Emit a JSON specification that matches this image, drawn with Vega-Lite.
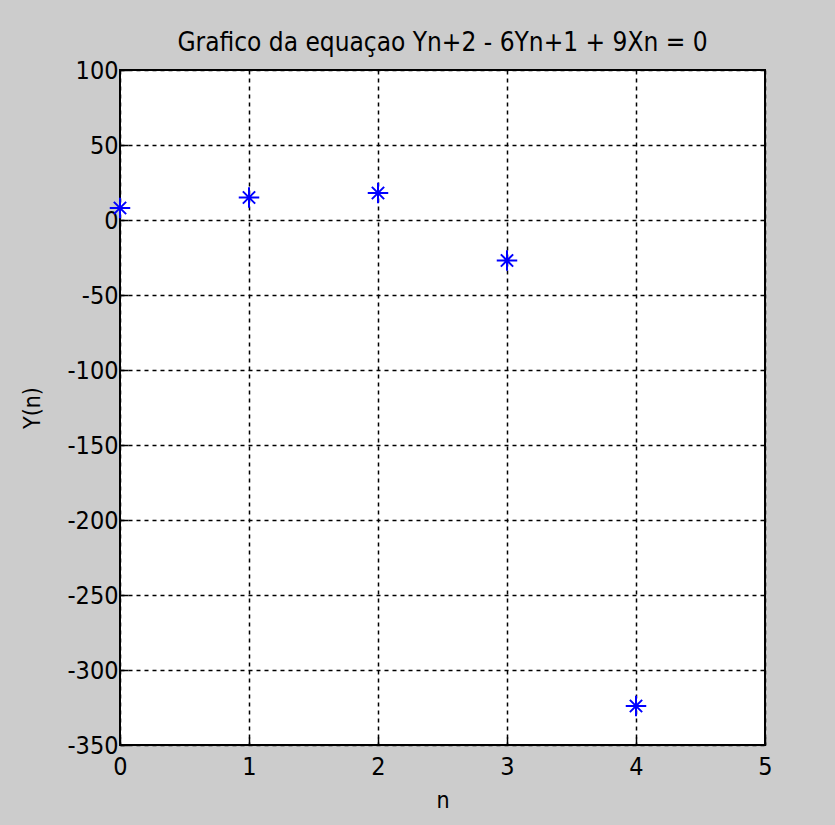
{
  "$schema": "https://vega.github.io/schema/vega-lite/v6.json",
  "autosize": "none",
  "width": 645,
  "height": 675,
  "padding": {"left": 120, "top": 70, "right": 70, "bottom": 80},
  "background": "#cccccc",
  "title": {
    "text": "Grafico da equaçao Yn+2 - 6Yn+1 + 9Xn = 0",
    "font": "Liberation Sans Narrow, Arial Narrow, DejaVu Sans Condensed, sans-serif",
    "fontSize": 26,
    "fontWeight": "normal",
    "color": "#000000",
    "anchor": "middle",
    "offset": 2
  },
  "config": {
    "view": {"fill": "#ffffff", "stroke": "#000000", "strokeWidth": 2},
    "axis": {
      "labelFont": "Liberation Sans Narrow, Arial Narrow, DejaVu Sans Condensed, sans-serif",
      "labelFontSize": 25,
      "labelColor": "#000000",
      "titleFont": "Liberation Sans Narrow, Arial Narrow, DejaVu Sans Condensed, sans-serif",
      "titleFontSize": 23,
      "titleFontWeight": "normal",
      "titleColor": "#000000",
      "grid": true,
      "gridColor": "#000000",
      "gridDash": [4, 4],
      "gridWidth": 1.5,
      "gridOpacity": 1,
      "domain": false,
      "tickColor": "#000000",
      "tickSize": -8,
      "tickWidth": 1.5,
      "labelExpr": "replace(datum.label, '\u2212', '-')"
    }
  },
  "data": {
    "values": [
      {"n": 0, "y": 8},
      {"n": 1, "y": 15},
      {"n": 2, "y": 18},
      {"n": 3, "y": -27},
      {"n": 4, "y": -324}
    ]
  },
  "mark": {
    "type": "point",
    "shape": "M-1,0L1,0M0,-1L0,1M-0.6,-0.6L0.6,0.6M-0.6,0.6L0.6,-0.6",
    "filled": false,
    "stroke": "#0000ff",
    "strokeWidth": 2,
    "size": 420,
    "opacity": 1
  },
  "encoding": {
    "x": {
      "field": "n",
      "type": "quantitative",
      "scale": {"domain": [0, 5], "nice": false, "zero": false},
      "axis": {"values": [0, 1, 2, 3, 4, 5], "title": "n", "labelPadding": 17, "titlePadding": 10, "format": "d", "labelFlush": false}
    },
    "y": {
      "field": "y",
      "type": "quantitative",
      "scale": {"domain": [-350, 100], "nice": false, "zero": false},
      "axis": {"values": [100, 50, 0, -50, -100, -150, -200, -250, -300, -350], "title": "Y(n)", "labelPadding": 10, "titlePadding": 22, "format": "d", "labelFlush": false}
    }
  }
}
